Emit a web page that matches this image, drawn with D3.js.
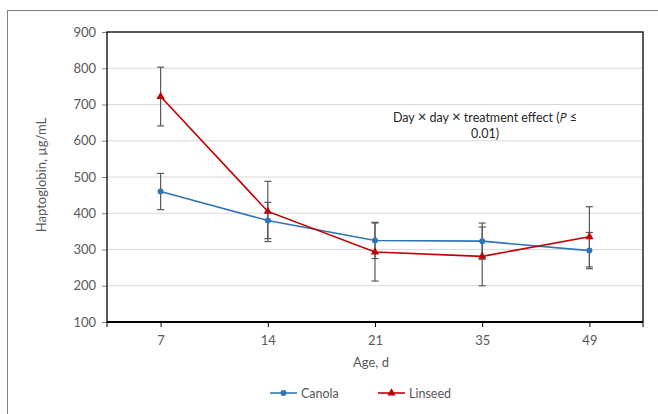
<!DOCTYPE html>
<html><head><meta charset="utf-8">
<script src="https://cdn.jsdelivr.net/npm/d3@7"></script>
<style>body{margin:0;background:#fff}svg{display:block}text{font-family:Lato,"Open Sans",sans-serif}</style>
</head><body><svg id="c" width="658" height="414"></svg>
<script>
const ages = ["7","14","21","35","49"];
const canola = [460, 380, 325, 323, 297];
const canolaErr = [50, 50, 50, 50, 50];
const linseed = [722, 405, 293, 281, 335];
const linseedErr = [81, 83, 80, 81, 83];
const yTicks = [100,200,300,400,500,600,700,800,900];

const svg = d3.select("#c");
const L = 107, R = 643, T = 32, B = 322;
const x = d3.scaleBand().domain(ages).range([L, R]);
const y = d3.scaleLinear().domain([100, 900]).range([B, T]);
const cx = d => x(d) + x.bandwidth()/2;

svg.append("rect").attr("x",7.5).attr("y",10.5).attr("width",700).attr("height",500)
  .attr("fill","none").attr("stroke","#808080").attr("stroke-width",1);

// gridlines
svg.append("g").selectAll("line").data(yTicks.slice(1,-1)).join("line")
  .attr("x1",L).attr("x2",R).attr("y1",d=>y(d)).attr("y2",d=>y(d))
  .attr("stroke","#d9d9d9").attr("stroke-width",1);

// y axis
const ya = svg.append("g").attr("transform",`translate(${L},0)`)
  .call(d3.axisLeft(y).tickValues(yTicks).tickSize(5).tickPadding(6));
ya.select(".domain").remove();
ya.selectAll("line").attr("stroke","#868686");
ya.selectAll("text").attr("fill","#595959").style("font-size","13px");

// plot border
svg.append("rect").attr("x",L).attr("y",T).attr("width",R-L).attr("height",B-T)
  .attr("fill","none").attr("stroke","#000").attr("stroke-width",1.3);
svg.append("line").attr("x1",L).attr("x2",R).attr("y1",B).attr("y2",B)
  .attr("stroke","#000").attr("stroke-width",2);

// x axis ticks
const xa = svg.append("g").attr("transform",`translate(0,${B})`)
  .call(d3.axisBottom(d3.scalePoint().domain(ages).range([cx("7"), cx("49")])).tickSize(5).tickPadding(9));
xa.select(".domain").remove();
xa.selectAll("line").attr("stroke","#000");
xa.selectAll("text").attr("fill","#595959").style("font-size","13px");
svg.append("line").attr("x1",R).attr("x2",R).attr("y1",B).attr("y2",B+5).attr("stroke","#000");
svg.append("line").attr("x1",L).attr("x2",L).attr("y1",B).attr("y2",B+5).attr("stroke","#000");

// lines
const line = d3.line().x((d,i)=>cx(ages[i])).y(d=>y(d));
svg.append("path").datum(canola).attr("d",line).attr("fill","none").attr("stroke","#2e75b6").attr("stroke-width",1.6);
svg.append("path").datum(linseed).attr("d",line).attr("fill","none").attr("stroke","#c00000").attr("stroke-width",1.6);

// error bars
function errs(vals, e){
  const g = svg.append("g").attr("stroke","#595959").attr("stroke-width",1.2);
  vals.forEach((v,i)=>{
    const X = cx(ages[i]);
    g.append("line").attr("x1",X).attr("x2",X).attr("y1",y(v-e[i])).attr("y2",y(v+e[i]));
    [v-e[i], v+e[i]].forEach(w=>g.append("line").attr("x1",X-3.5).attr("x2",X+3.5).attr("y1",y(w)).attr("y2",y(w)));
  });
}
errs(canola, canolaErr);
errs(linseed, linseedErr);

// markers
svg.append("g").selectAll("circle").data(canola).join("circle")
  .attr("cx",(d,i)=>cx(ages[i])).attr("cy",d=>y(d)).attr("r",3).attr("fill","#2e75b6");
const tri = d3.symbol().type(d3.symbolTriangle).size(30);
svg.append("g").selectAll("path").data(linseed).join("path")
  .attr("d",tri).attr("transform",(d,i)=>`translate(${cx(ages[i])},${y(d)})`).attr("fill","#c00000");

// annotation
const ann = svg.append("text").attr("x",485).attr("y",122).attr("text-anchor","middle")
  .attr("fill","#262626").style("font-size","12.5px");
ann.append("tspan").text("Day ");
ann.append("tspan").style("font-size","15px").text("\u00D7");
ann.append("tspan").text(" day ");
ann.append("tspan").style("font-size","15px").text("\u00D7");
ann.append("tspan").text(" treatment effect (");
ann.append("tspan").style("font-family","'Open Sans',sans-serif").style("font-style","italic").text("P");
ann.append("tspan").text(" \u2264");
svg.append("text").attr("x",485).attr("y",138).attr("text-anchor","middle")
  .attr("fill","#262626").style("font-size","12.5px").text("0.01)");

// axis titles
svg.append("text").attr("transform","translate(46,175) rotate(-90)").attr("text-anchor","middle")
  .attr("fill","#595959").style("font-size","13px").text("Haptoglobin, \u00B5g/mL");
svg.append("text").attr("x",371).attr("y",367).attr("text-anchor","middle")
  .attr("fill","#595959").style("font-size","13px").text("Age, d");

// legend
const leg = [{n:"Canola",c:"#2e75b6",t:"c",x:270},{n:"Linseed",c:"#c00000",t:"t",x:378}];
leg.forEach(l=>{
  svg.append("line").attr("x1",l.x).attr("x2",l.x+27).attr("y1",393).attr("y2",393).attr("stroke",l.c).attr("stroke-width",1.6);
  if(l.t==="c") svg.append("circle").attr("cx",l.x+13.5).attr("cy",393).attr("r",3).attr("fill",l.c);
  else svg.append("path").attr("d",tri).attr("transform",`translate(${l.x+13.5},393)`).attr("fill",l.c);
  svg.append("text").attr("x",l.x+31).attr("y",397.5).attr("fill","#595959").style("font-size","12.5px").text(l.n);
});
</script></body></html>
